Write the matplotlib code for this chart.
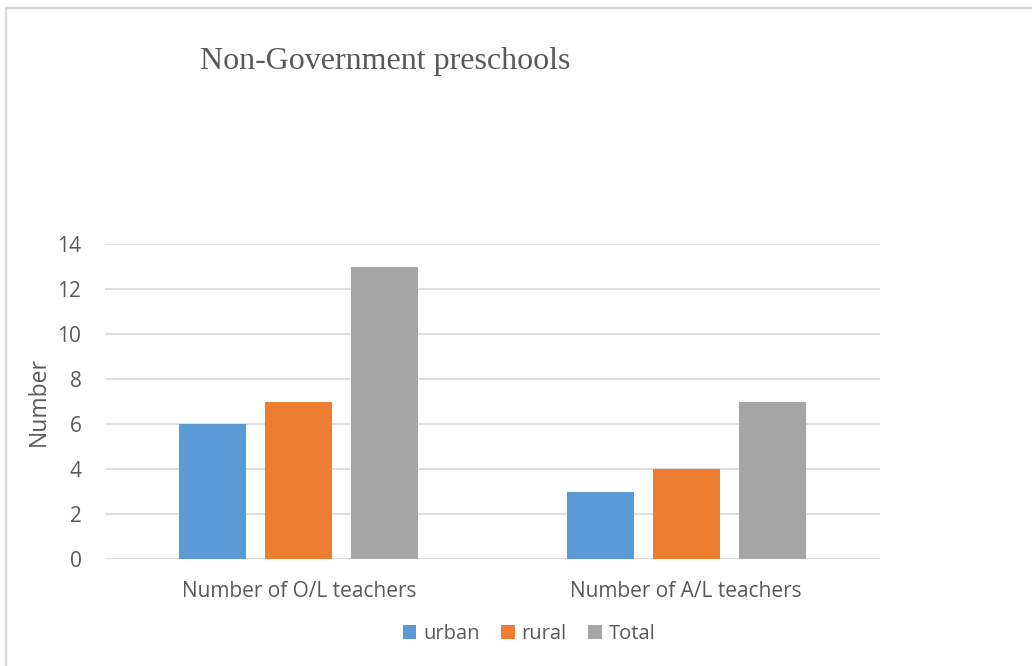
import matplotlib
matplotlib.use("Agg")
import matplotlib.pyplot as plt
from matplotlib.lines import Line2D
import numpy as np

categories = ["Number of O/L teachers", "Number of A/L teachers"]
series_names = ["urban", "rural", "Total"]
urban = [6, 3]
rural = [7, 4]
total = [13, 7]
yticks = [0, 2, 4, 6, 8, 10, 12, 14]
title = "Non-Government preschools"
ylabel = "Number"

colors = ["#5b9bd5", "#ed7d31", "#a5a5a5"]
text_color = "#595959"
sans = ["Open Sans", "DejaVu Sans"]
serif = ["Liberation Serif", "DejaVu Serif"]

fig = plt.figure(figsize=(10.32, 6.66), dpi=100)
ax = fig.add_axes([105 / 1032, 1 - 559 / 666, 775 / 1032, 315 / 666])

x = np.arange(len(categories))
width = 0.173
step = 0.222
for i, (vals, name, c) in enumerate(zip([urban, rural, total], series_names, colors)):
    ax.bar(x + (i - 1) * step, vals, width=width, color=c, label=name, zorder=3)

ax.set_xlim(-0.5, len(categories) - 0.5)
ax.set_ylim(0, 14)
ax.set_yticks(yticks)
ax.set_yticklabels([str(t) for t in yticks], family=sans, fontsize=15, color=text_color)
ax.set_xticks(x)
ax.set_xticklabels(categories, family=sans, fontsize=15, color=text_color)
ax.tick_params(axis="both", length=0)
ax.tick_params(axis="y", pad=17)
ax.tick_params(axis="x", pad=16)
ax.yaxis.grid(True, color="#d9d9d9", linewidth=1.2, zorder=0)
for s in ax.spines.values():
    s.set_visible(False)
ax.axhline(0, color="#d9d9d9", linewidth=1.2, zorder=2)

ax.set_ylabel(ylabel, family=sans, fontsize=16.5, color=text_color, labelpad=5)

fig.text(200 / 1032, 1 - 61 / 666, title, family=serif, fontsize=23,
         color=text_color, ha="left", va="center")

leg = fig.legend(loc="center", bbox_to_anchor=(529 / 1032, 1 - 634 / 666),
                 ncol=3, frameon=False, handlelength=0.68, handleheight=0.68,
                 handletextpad=0.35, columnspacing=1.05,
                 prop={"family": sans, "size": 14.5})
for t in leg.get_texts():
    t.set_color(text_color)

# light frame on the left and top edges
fig.add_artist(Line2D([5.5 / 1032, 5.5 / 1032], [0, 1 - 8 / 666],
                      transform=fig.transFigure, color="#d9d9d9", linewidth=1.6))
fig.add_artist(Line2D([5.5 / 1032, 1], [1 - 8 / 666, 1 - 8 / 666],
                      transform=fig.transFigure, color="#d9d9d9", linewidth=1.6))

fig.savefig("out.png", dpi=100, facecolor="white")
